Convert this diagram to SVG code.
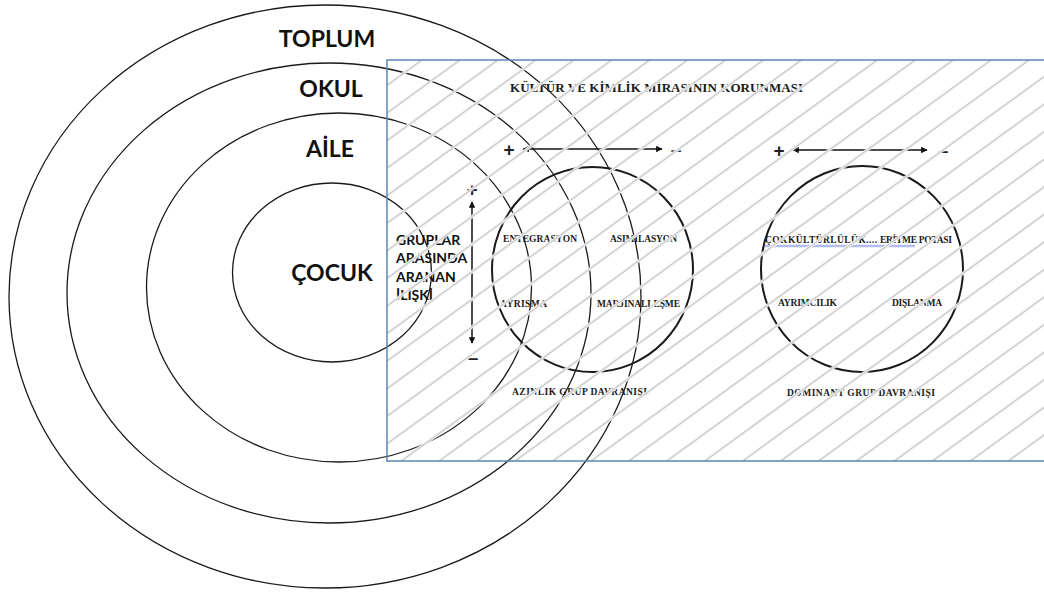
<svg xmlns="http://www.w3.org/2000/svg" width="1044" height="594" viewBox="0 0 1044 594">
  <style>
    .ring { fill: none; stroke: #1a1a1a; stroke-width: 1.3; }
    .grp { fill: none; stroke: #1a1a1a; stroke-width: 2; }
    .big { font-family: Lato, "Liberation Sans", sans-serif; font-weight: bold; font-size: 23px; fill: #111; text-anchor: middle; }
    .mid { font-family: Lato, "Liberation Sans", sans-serif; font-weight: bold; font-size: 14px; fill: #111; }
    .ser { font-family: "Liberation Serif", "DejaVu Serif", serif; font-weight: bold; font-size: 9.5px; fill: #1a1a1a; }
    .head { font-family: "Liberation Serif", "DejaVu Serif", serif; font-weight: bold; font-size: 13px; fill: #1a1a1a; }
    .sign { font-family: "Liberation Sans", "DejaVu Sans", sans-serif; font-weight: bold; font-size: 19px; fill: #222; text-anchor: middle; }
    .arr { stroke: #111; stroke-width: 1.5; fill: none; marker-start: url(#ah); marker-end: url(#ah); }
  </style>
  <defs>
    <marker id="ah" viewBox="0 0 10 10" refX="9" refY="5" markerWidth="8" markerHeight="6.5" orient="auto-start-reverse" markerUnits="userSpaceOnUse">
      <path d="M0,0 L10,5 L0,10 Z" fill="#111"/>
    </marker>
    <pattern id="hatch" patternUnits="userSpaceOnUse" width="20" height="22.3" patternTransform="translate(415.45,50.98) rotate(-36)">
      <line x1="-2" y1="11.15" x2="22" y2="11.15" stroke="#ffffff" stroke-width="3.2"/>
      <line x1="-2" y1="11.15" x2="22" y2="11.15" stroke="#c4c4c4" stroke-width="1.5"/>
    </pattern>
    <pattern id="wave" patternUnits="userSpaceOnUse" x="765" y="244.5" width="3" height="3">
      <polyline points="0,2.5 1.5,0.5 3,2.5" fill="none" stroke="#3a4fe0" stroke-width="0.9"/>
    </pattern>
  </defs>
  <rect width="1044" height="594" fill="#ffffff"/>

  <g id="toplum">
    <ellipse class="ring" cx="325" cy="296.5" rx="316" ry="291.5"/>
    <text class="big" x="327" y="47">TOPLUM</text>
  </g>
  <g id="okul">
    <ellipse class="ring" cx="329" cy="293" rx="262" ry="230"/>
    <text class="big" x="331" y="97">OKUL</text>
  </g>
  <g id="aile">
    <ellipse class="ring" cx="339" cy="287.5" rx="192.5" ry="174.5"/>
    <text class="big" x="330" y="157">AİLE</text>
  </g>
  <g id="cocuk">
    <ellipse class="ring" cx="332" cy="272.5" rx="99.5" ry="89.5"/>
    <text class="big" x="332" y="281">ÇOCUK</text>
  </g>

  <g id="baslik">
    <text class="head" x="510" y="92" textLength="293">KÜLTÜR VE KİMLİK MİRASININ KORUNMASI</text>
  </g>

  <g id="iliski">
    <text class="mid" x="396" y="245">GRUPLAR</text>
    <text class="mid" x="396" y="263">ARASINDA</text>
    <text class="mid" x="396" y="282">ARANAN</text>
    <text class="mid" x="396" y="300">İLİŞKİ</text>
  </g>

  <g id="azinlik">
    <ellipse class="grp" cx="592.5" cy="269.5" rx="100.5" ry="102.5"/>
    <text class="ser" x="503" y="242" textLength="74">ENTEGRASYON</text>
    <text class="ser" x="610" y="242" textLength="67">ASIMILASYON</text>
    <text class="ser" x="500" y="307" textLength="47">AYRISMA</text>
    <text class="ser" x="597" y="307" textLength="83">MARJINALLEŞME</text>
    <text class="ser" x="512" y="395" textLength="135">AZINLIK GRUP DAVRANIŞI</text>
  </g>

  <g id="dominant">
    <ellipse class="grp" cx="862" cy="269" rx="101" ry="103"/>
    <rect x="765" y="244.5" width="150" height="3" fill="url(#wave)"/>
    <text class="ser" x="765" y="243" textLength="112">ÇOKKÜLTÜRLÜLÜK....</text>
    <text class="ser" x="880" y="243" textLength="72">ERİTME POTASI</text>
    <text class="ser" x="778" y="306" textLength="59">AYRIMCILIK</text>
    <text class="ser" x="892" y="306" textLength="50">DIŞLANMA</text>
    <text class="ser" x="787" y="396" textLength="148">DOMINANT GRUP DAVRANIŞI</text>
  </g>

  <g id="connectors">
    <line class="arr" x1="472" y1="202" x2="472" y2="343"/>
    <text class="sign" x="472" y="196">+</text>
    <text class="sign" x="473" y="364">–</text>
    <line class="arr" x1="523" y1="149" x2="662" y2="149"/>
    <text class="sign" x="509" y="156">+</text>
    <text class="sign" x="676" y="156">–</text>
    <line class="arr" x1="793" y1="150" x2="927" y2="150"/>
    <text class="sign" x="779" y="157">+</text>
    <text class="sign" x="943" y="157">–</text>
  </g>

  <g id="box">
    <rect x="387" y="60" width="670" height="401" fill="url(#hatch)"/>
    <rect x="387" y="60" width="670" height="401" fill="none" stroke="#5a86b8" stroke-width="1.5"/>
  </g>
</svg>
